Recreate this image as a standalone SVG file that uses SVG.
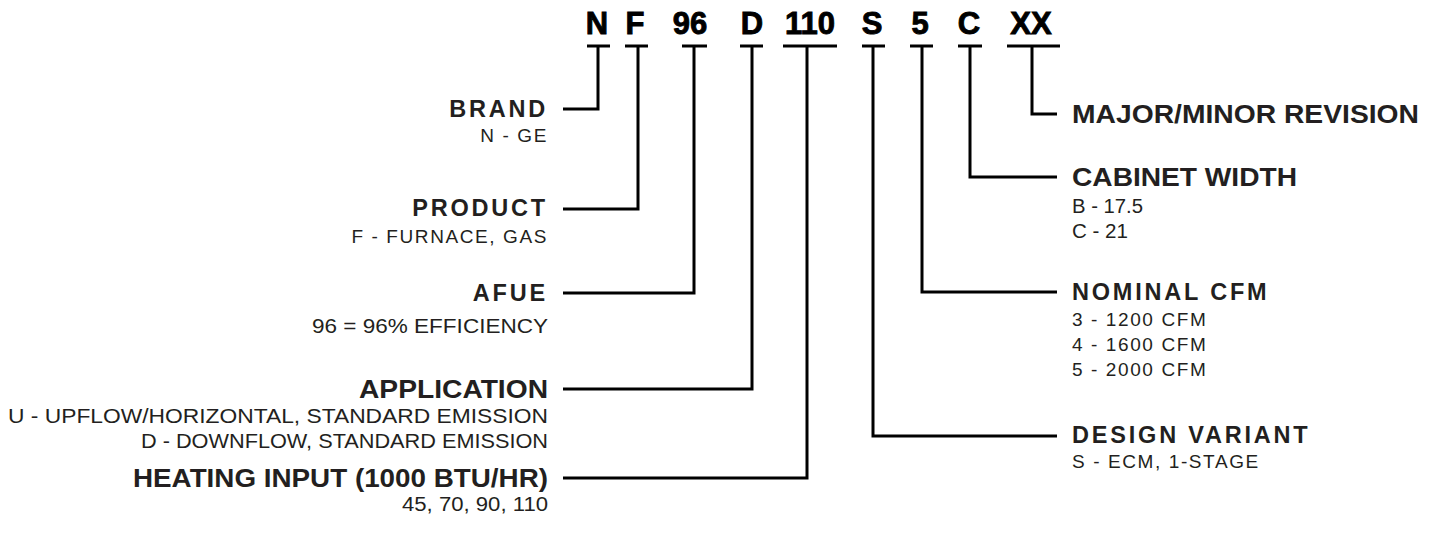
<svg xmlns="http://www.w3.org/2000/svg" width="1440" height="543" viewBox="0 0 1440 543">
<style>
.code{font-family:"Liberation Sans",Arial,sans-serif;font-weight:bold;font-size:31px;fill:#000;stroke:#000;stroke-width:0.9;text-anchor:middle}
.h{font-family:"Liberation Sans",Arial,sans-serif;font-weight:bold;font-size:23.5px;fill:#231f20;letter-spacing:2.8px}
.hc{font-family:"Liberation Sans",Arial,sans-serif;font-weight:bold;font-size:25px;fill:#231f20}
.d{font-family:"Liberation Sans",Arial,sans-serif;font-size:19px;fill:#231f20;letter-spacing:1.6px}
.dc{font-family:"Liberation Sans",Arial,sans-serif;font-size:20.5px;fill:#231f20}
.l{text-anchor:end}
.c{fill:none;stroke:#000;stroke-width:3}
</style>
<rect width="1440" height="543" fill="#fff"/>
<g id="code">
<text class="code" x="597" y="34">N</text>
<text class="code" x="635" y="34">F</text>
<text class="code" x="690" y="34">96</text>
<text class="code" x="752" y="34">D</text>
<text class="code" x="810" y="34">110</text>
<text class="code" x="872" y="34">S</text>
<text class="code" x="920" y="34">5</text>
<text class="code" x="969" y="34">C</text>
<text class="code" x="1031" y="34">XX</text>
</g>
<g id="connectors" class="c">
<path d="M587 46H610M598 46V109H563"/>
<path d="M625 46H648M638 46V209H563"/>
<path d="M682 46H707M694 46V293H563"/>
<path d="M740 46H763M752 46V389H563"/>
<path d="M783 46H837M807 46V478H563"/>
<path d="M862 46H885M873 46V436H1057"/>
<path d="M910 46H933M922 46V292H1057"/>
<path d="M958 46H982M970 46V177H1057"/>
<path d="M1007 46H1060M1032 46V114H1057"/>
</g>
<g id="brand"><text class="h l" x="548" y="117">BRAND</text><text class="d l" x="548" y="142">N - GE</text></g>
<g id="product"><text class="h l" x="548" y="216">PRODUCT</text><text class="d l" x="548" y="243">F - FURNACE, GAS</text></g>
<g id="afue"><text class="h l" x="548" y="301">AFUE</text><text class="dc" x="312" y="333" textLength="236" lengthAdjust="spacingAndGlyphs">96 = 96% EFFICIENCY</text></g>
<g id="application"><text class="hc" x="359" y="398" textLength="189" lengthAdjust="spacingAndGlyphs">APPLICATION</text><text class="dc" x="8" y="423" textLength="540" lengthAdjust="spacingAndGlyphs">U - UPFLOW/HORIZONTAL, STANDARD EMISSION</text><text class="dc" x="141" y="448" textLength="407" lengthAdjust="spacingAndGlyphs">D - DOWNFLOW, STANDARD EMISSION</text></g>
<g id="heating"><text class="hc" x="133" y="487" textLength="415" lengthAdjust="spacingAndGlyphs">HEATING INPUT (1000 BTU/HR)</text><text class="dc" x="402" y="511" textLength="146" lengthAdjust="spacingAndGlyphs">45, 70, 90, 110</text></g>
<g id="revision"><text class="hc" x="1072" y="123" textLength="347" lengthAdjust="spacingAndGlyphs">MAJOR/MINOR REVISION</text></g>
<g id="cabinet"><text class="hc" x="1072" y="186" textLength="225" lengthAdjust="spacingAndGlyphs">CABINET WIDTH</text><text class="dc" x="1072" y="213" textLength="71" lengthAdjust="spacingAndGlyphs">B - 17.5</text><text class="dc" x="1072" y="238" textLength="56" lengthAdjust="spacingAndGlyphs">C - 21</text></g>
<g id="cfm"><text class="h" x="1072" y="300">NOMINAL CFM</text><text class="d" x="1072" y="326">3 - 1200 CFM</text><text class="d" x="1072" y="351">4 - 1600 CFM</text><text class="d" x="1072" y="376">5 - 2000 CFM</text></g>
<g id="variant"><text class="h" x="1072" y="443">DESIGN VARIANT</text><text class="d" x="1072" y="468">S - ECM, 1-STAGE</text></g>
</svg>
